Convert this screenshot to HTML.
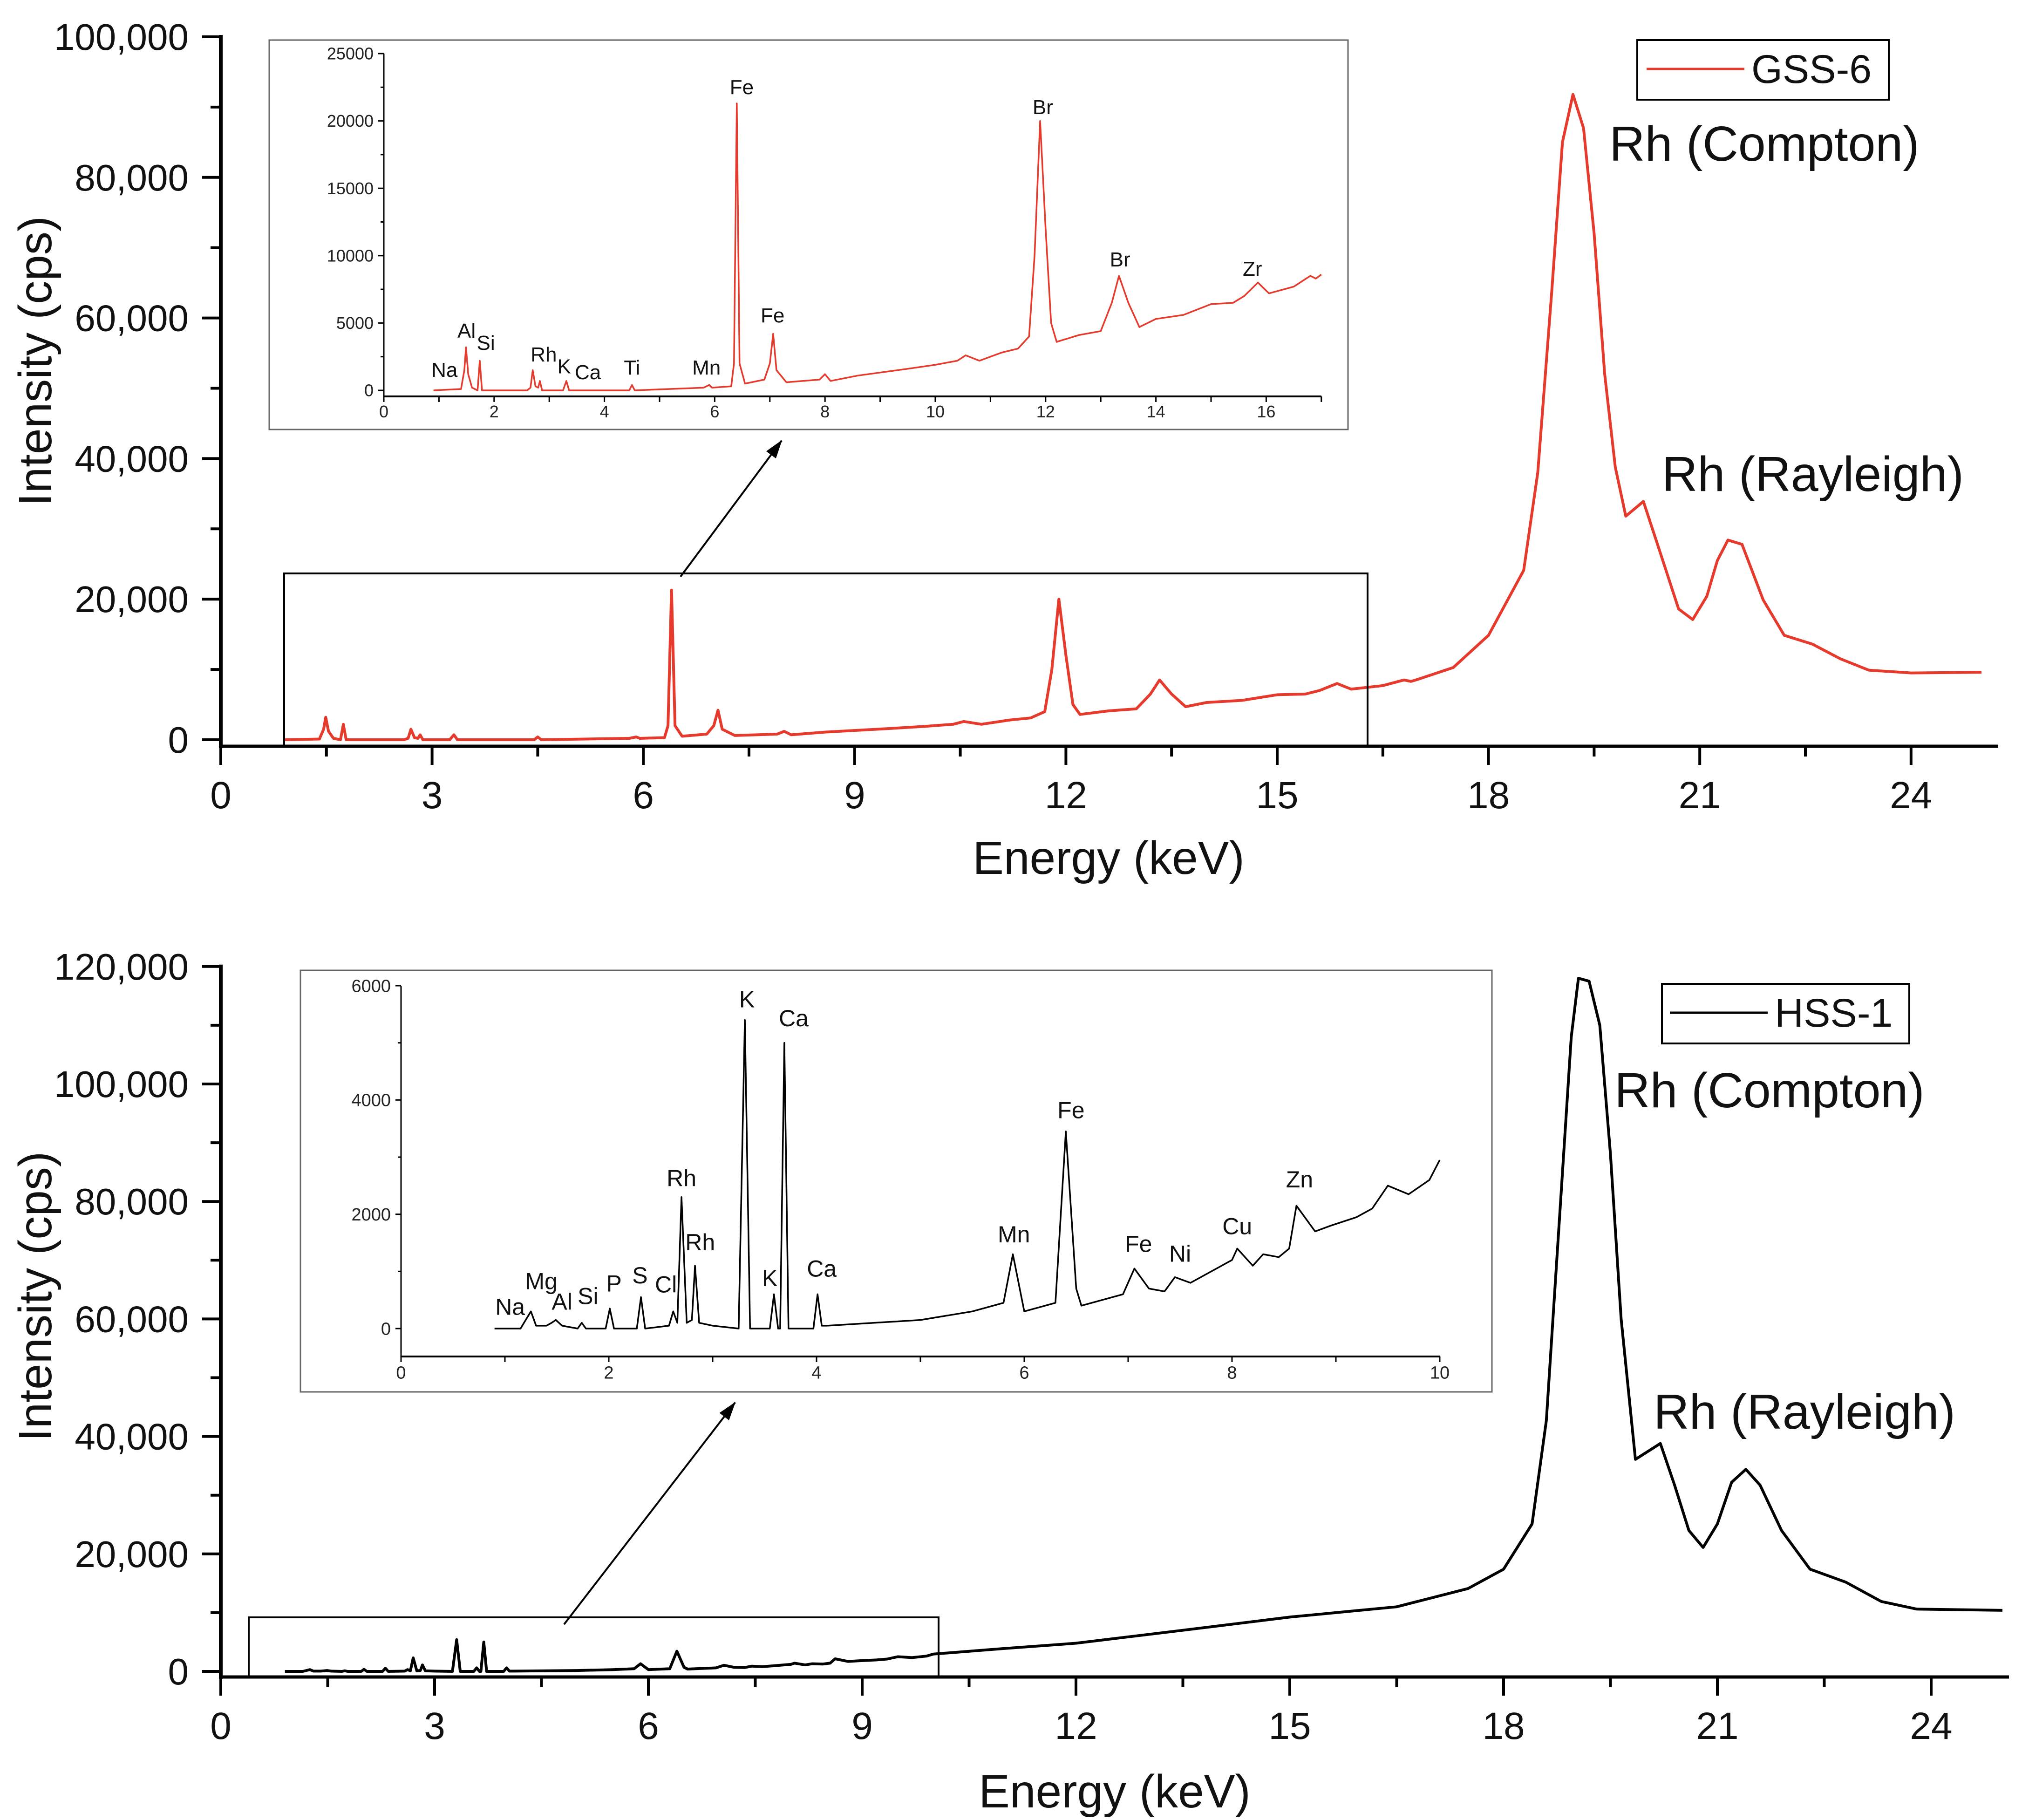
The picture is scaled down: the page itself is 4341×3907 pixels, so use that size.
<!DOCTYPE html>
<html><head><meta charset="utf-8">
<style>
html,body{margin:0;padding:0;background:#fff;}
svg{display:block;font-family:"Liberation Sans",sans-serif;}
</style></head>
<body>
<svg id="chart" width="4341" height="3907" viewBox="0 0 4341 3907" xmlns="http://www.w3.org/2000/svg">
<defs>
<marker id="ah" markerWidth="40" markerHeight="30" refX="38" refY="15" orient="auto" markerUnits="userSpaceOnUse" viewBox="0 0 40 30">
<path d="M0,2 L40,15 L0,28 z" fill="#000"/>
</marker>
</defs>
<g id="g"></g>
</svg>
<script>
// ---------- DATA ----------
const gssE = [0.9,1.4,1.46,1.49,1.53,1.6,1.7,1.74,1.78,2.6,2.66,2.7,2.75,2.8,2.83,2.87,3.25,3.31,3.36,4.45,4.5,4.55,5.8,5.9,5.95,6.3,6.35,6.40,6.45,6.55,6.9,7.0,7.06,7.12,7.3,7.9,8.0,8.1,8.6,9.5,10.0,10.4,10.55,10.8,11.2,11.5,11.7,11.8,11.9,12.0,12.1,12.2,12.6,13.0,13.2,13.33,13.5,13.7,14.0,14.5,15.0,15.4,15.6,15.85,16.05,16.5,16.8,16.9,17.0];
const gssI = [0,100,1500,3200,1200,200,0,2200,0,0,200,1500,300,200,700,0,0,700,0,0,400,0,200,400,200,300,2000,21300,2000,500,800,2000,4200,1500,600,800,1200,700,1100,1600,1900,2200,2600,2200,2800,3100,4000,10000,20000,12000,5000,3600,4100,4400,6500,8500,6500,4700,5300,5600,6400,6500,7000,8000,7200,7700,8500,8300,8600];
const gssHiE = [17.5,18,18.5,18.7,18.9,19.05,19.2,19.35,19.5,19.65,19.8,19.95,20.2,20.4,20.7,20.9,21.1,21.25,21.4,21.6,21.9,22.2,22.6,23.0,23.4,24,25];
const gssHiI = [10270,14850,24100,38000,64000,85000,91800,87000,72000,52000,38800,31800,33900,27800,18600,17100,20400,25500,28400,27800,19900,14850,13600,11500,9900,9500,9600];
const hssE = [0.9,1.15,1.2,1.25,1.3,1.4,1.45,1.49,1.55,1.7,1.74,1.78,1.97,2.01,2.05,2.27,2.31,2.35,2.58,2.62,2.66,2.70,2.75,2.8,2.83,2.87,3.0,3.25,3.31,3.36,3.4,3.55,3.59,3.63,3.65,3.69,3.73,3.97,4.01,4.05,4.1,5.0,5.5,5.8,5.89,6.0,6.3,6.40,6.5,6.55,6.95,7.06,7.2,7.35,7.45,7.6,7.9,8.0,8.05,8.2,8.3,8.45,8.55,8.62,8.8,8.95,9.2,9.35,9.5,9.7,9.9,10.0];
const hssI = [0,0,150,300,50,50,100,150,50,0,100,0,0,350,0,0,550,0,50,300,100,2300,100,150,1100,100,50,0,5400,0,0,0,600,0,0,5000,0,0,600,50,50,150,300,450,1300,300,450,3450,700,400,600,1050,700,650,900,800,1100,1200,1400,1100,1300,1250,1400,2150,1700,1800,1950,2100,2500,2350,2600,2950];
const hssHiE = [11,12,13.5,15,16.5,17.5,18,18.4,18.6,18.8,18.95,19.05,19.2,19.35,19.5,19.65,19.85,20.2,20.4,20.6,20.8,21.0,21.2,21.4,21.6,21.9,22.3,22.8,23.3,23.8,25];
const hssHiI = [3900,4800,7000,9250,11000,14100,17400,25100,42700,80000,108000,118000,117500,110000,88000,60000,36100,38800,31700,24000,21100,25100,32200,34400,31700,24000,17400,15200,11900,10600,10400];

const mainXTicks = [0,3,6,9,12,15,18,21,24];
const topYTicks = [0,20000,40000,60000,80000,100000];
const botYTicks = [0,20000,40000,60000,80000,100000,120000];
const topInYTicks = [0,5000,10000,15000,20000,25000];
const topInXTicks = [0,2,4,6,8,10,12,14,16];
const botInYTicks = [0,2000,4000,6000];
const botInXTicks = [0,2,4,6,8,10];

const topLabText = ["Na","Al","Si","Rh","K","Ca","Ti","Mn","Fe","Fe","Br","Br","Zr"];
const topLabE = [1.1,1.5,1.85,2.9,3.27,3.7,4.5,5.85,6.49,7.05,11.95,13.35,15.75];
const topLabI = [1000,3900,3000,2150,1270,830,1180,1180,22000,5050,20500,9200,8500];
const botLabText = ["Na","Mg","Al","Si","P","S","Cl","Rh","Rh","K","K","Ca","Ca","Mn","Fe","Fe","Ni","Cu","Zn"];
const botLabE = [1.05,1.35,1.55,1.8,2.05,2.3,2.55,2.7,2.88,3.33,3.55,3.78,4.05,5.9,6.45,7.1,7.5,8.05,8.65];
const botLabI = [240,690,330,430,650,790,630,2490,1370,5620,740,5290,910,1510,3680,1340,1170,1650,2470];

// ---------- HELPERS ----------
const NS="http://www.w3.org/2000/svg";
const root=document.getElementById('g');
function mk(tag,attrs,parent){const e=document.createElementNS(NS,tag);for(const k in attrs)e.setAttribute(k,attrs[k]);(parent||root).appendChild(e);return e;}
function axis(x0,kx,y0,ky){return {x:e=>x0+e*kx,y:v=>y0-v*ky};}
const fmt=v=>v.toLocaleString('en-US');

const RED="#e53a2c";
const tm=axis(474,151.2,1588,301.8/20000);
const ti=axis(824,118.4,838,723/25000);
const bm=axis(474,153,3588,252.2/20000);
const bi=axis(861,223,2852,736/6000);

function path(ax,E,I,color,w,name){
  let d="";for(let i=0;i<E.length;i++){d+=(i?"L":"M")+ax.x(E[i]).toFixed(1)+","+ax.y(I[i]).toFixed(1);}
  const p=mk('path',{d:d,fill:"none",stroke:color,"stroke-width":w,"stroke-linejoin":"round"});
  
  
  return p;
}

function mainPanel(ax,yTicks,yMax,xEnd,xAxisY,prefix){
  const g=mk('g',{});
  
  
  mk('line',{x1:474,y1:ax.y(yMax)-4,x2:474,y2:xAxisY+4,stroke:"#000","stroke-width":8},g);
  mk('line',{x1:470,y1:xAxisY,x2:xEnd,y2:xAxisY,stroke:"#000","stroke-width":7},g);
  for(let i=0;i<yTicks.length;i++){
    const v=yTicks[i],y=ax.y(v);
    mk('line',{x1:434,y1:y,x2:474,y2:y,stroke:"#000","stroke-width":6},g);
    const t=mk('text',{x:405,y:y+28,"font-size":80,"text-anchor":"end",fill:"#111"},g);
    t.textContent=fmt(v);
    
    
    if(i<yTicks.length-1){const ym=ax.y((v+yTicks[i+1])/2);mk('line',{x1:452,y1:ym,x2:474,y2:ym,stroke:"#000","stroke-width":6},g);}
  }
  for(let i=0;i<mainXTicks.length;i++){
    const v=mainXTicks[i],x=ax.x(v);
    mk('line',{x1:x,y1:xAxisY,x2:x,y2:xAxisY+40,stroke:"#000","stroke-width":6},g);
    const xm=ax.x(v+1.5);
    if(xm<xEnd) mk('line',{x1:xm,y1:xAxisY,x2:xm,y2:xAxisY+22,stroke:"#000","stroke-width":6},g);
    const t=mk('text',{x:x,y:xAxisY+133,"font-size":82,"text-anchor":"middle",fill:"#111"},g);
    t.textContent=v;
    
    
  }
}

function insetPanel(ax,yTicks,xTicks,xMax,xAxisY,box,prefix,fs,labT,labE,labI,lfs,color,E,I){
  const g=mk('g',{});
  
  
  mk('rect',{x:box[0],y:box[1],width:box[2]-box[0],height:box[3]-box[1],fill:"#fff",stroke:"#666","stroke-width":3},g);
  const yTop=ax.y(yTicks[yTicks.length-1]);
  mk('line',{x1:ax.x(0),y1:yTop,x2:ax.x(0),y2:xAxisY,stroke:"#000","stroke-width":3},g);
  mk('line',{x1:ax.x(0),y1:xAxisY,x2:ax.x(xMax),y2:xAxisY,stroke:"#000","stroke-width":4},g);
  for(let i=0;i<yTicks.length;i++){
    const y=ax.y(yTicks[i]);
    mk('line',{x1:ax.x(0)-12,y1:y,x2:ax.x(0),y2:y,stroke:"#000","stroke-width":3},g);
    if(i<yTicks.length-1){const ym=ax.y((yTicks[i]+yTicks[i+1])/2);mk('line',{x1:ax.x(0)-7,y1:ym,x2:ax.x(0),y2:ym,stroke:"#000","stroke-width":3},g);}
    const t=mk('text',{x:ax.x(0)-22,y:y+fs*0.35,"font-size":fs,"text-anchor":"end",fill:"#222"},g);
    t.textContent=yTicks[i];
    
    
  }
  for(let e=0;e<=xMax;e++){
    const x=ax.x(e);
    mk('line',{x1:x,y1:xAxisY,x2:x,y2:xAxisY+12,stroke:"#000","stroke-width":3},g);
  }
  for(let i=0;i<xTicks.length;i++){
    const t=mk('text',{x:ax.x(xTicks[i]),y:xAxisY+fs*1.25,"font-size":fs,"text-anchor":"middle",fill:"#222"},g);
    t.textContent=xTicks[i];
    
    
  }
  path(ax,E,I,color,3.5,prefix+'-inset-spectrum');
  for(let i=0;i<labT.length;i++){
    const t=mk('text',{x:ax.x(labE[i]),y:ax.y(labI[i]),"font-size":lfs,"text-anchor":"middle",fill:"#111"},g);
    t.textContent=labT[i];
    
    
  }
}

function text(x,y,s,fs,name,extra){
  const t=mk('text',Object.assign({x:x,y:y,"font-size":fs,fill:"#111"},extra||{}));
  t.textContent=s;
  
  
  return t;
}

// ===== TOP PANEL =====
mainPanel(tm,topYTicks,100000,4290,1602,'top');
path(tm,gssE.concat(gssHiE),gssI.concat(gssHiI),RED,6,'gss6-spectrum');
const zb1=mk('rect',{x:610,y:1231,width:2326,height:371,fill:"none",stroke:"#000","stroke-width":4});


const ar1=mk('line',{x1:1461,y1:1238,x2:1678,y2:946,stroke:"#000","stroke-width":4,"marker-end":"url(#ah)"});


insetPanel(ti,topInYTicks,topInXTicks,17,851,[578,86,2894,922],'top',36,topLabText,topLabE,topLabI,44,RED,gssE,gssI);
text(2380,1876,"Energy (keV)",100,'top-x-axis-title',{"text-anchor":"middle"});
text(110,775,"Intensity (cps)",100,'top-y-axis-title',{"text-anchor":"middle",transform:"rotate(-90 110 775)"});
text(3455,345,"Rh (Compton)",106,'top-compton-label');
text(3568,1054,"Rh (Rayleigh)",106,'top-rayleigh-label');
const lg1=mk('g',{});


mk('rect',{x:3515,y:86,width:540,height:128,fill:"#fff",stroke:"#000","stroke-width":4},lg1);
mk('line',{x1:3535,y1:148,x2:3745,y2:148,stroke:RED,"stroke-width":5},lg1);
const lt1=mk('text',{x:3760,y:178,"font-size":86,fill:"#111"},lg1);lt1.textContent="GSS-6";

// ===== BOTTOM PANEL =====
mainPanel(bm,botYTicks,120000,4313,3600,'bottom');
path(bm,hssE.concat(hssHiE),hssI.concat(hssHiI),"#000",6,'hss1-spectrum');
const zb2=mk('rect',{x:534,y:3472,width:1481,height:128,fill:"none",stroke:"#000","stroke-width":4});


const ar2=mk('line',{x1:1211,y1:3487,x2:1578,y2:3011,stroke:"#000","stroke-width":4,"marker-end":"url(#ah)"});


insetPanel(bi,botInYTicks,botInXTicks,10,2912,[645,2083,3203,2988],'bottom',38,botLabText,botLabE,botLabI,50,"#000",hssE,hssI);
text(2393,3880,"Energy (keV)",100,'bottom-x-axis-title',{"text-anchor":"middle"});
text(110,2783,"Intensity (cps)",100,'bottom-y-axis-title',{"text-anchor":"middle",transform:"rotate(-90 110 2783)"});
text(3466,2377,"Rh (Compton)",106,'bottom-compton-label');
text(3550,3067,"Rh (Rayleigh)",106,'bottom-rayleigh-label');
const lg2=mk('g',{});


mk('rect',{x:3568,y:2112,width:531,height:128,fill:"#fff",stroke:"#000","stroke-width":4},lg2);
mk('line',{x1:3585,y1:2174,x2:3795,y2:2174,stroke:"#000","stroke-width":5},lg2);
const lt2=mk('text',{x:3810,y:2204,"font-size":86,fill:"#111"},lg2);lt2.textContent="HSS-1";
</script>
</body></html>
